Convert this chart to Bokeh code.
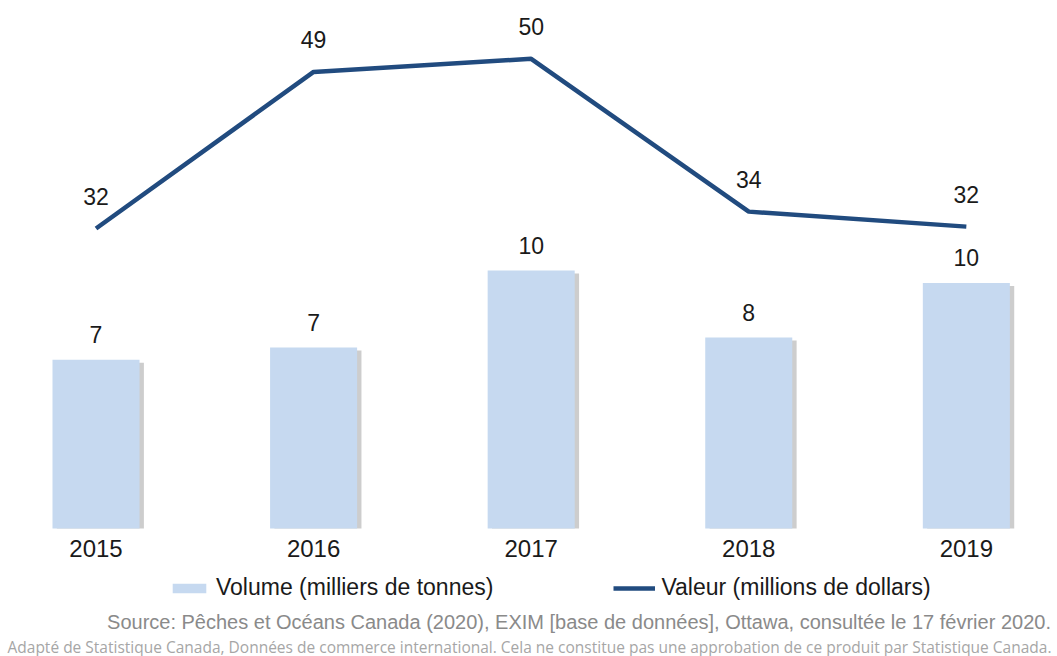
from bokeh.plotting import figure
from bokeh.models import Range1d, FixedTicker, Legend, LegendItem, Label, ColumnDataSource
from bokeh.transform import dodge
from bokeh.core.properties import value
from bokeh.embed import file_html
from bokeh.resources import INLINE

years = ["2015", "2016", "2017", "2018", "2019"]
volume = [6.8, 7.3, 10.4, 7.7, 9.9]          # milliers de tonnes
valeur = [32.0, 48.7, 50.1, 33.8, 32.2]      # millions de dollars
volume_labels = ["7", "7", "10", "8", "10"]
valeur_labels = ["32", "49", "50", "34", "32"]

source1 = "Source: Pêches et Océans Canada (2020), EXIM [base de données], Ottawa,  consultée le 17 février 2020."
source2 = ("Adapté de Statistique Canada, Données de commerce international. "
           "Cela ne constitue pas une approbation de ce produit par Statistique Canada.")

xs = list(range(len(years)))
src = ColumnDataSource(dict(
    x=xs, vol=volume, val=valeur, vol_lab=volume_labels, val_lab=valeur_labels,
    vol_shadow=[v - 0.12 for v in volume],
))

FONT = "Liberation Sans"

p = figure(frame_width=1057, frame_height=656, output_backend="svg", toolbar_location=None,
           x_range=Range1d(-0.439, 4.419), y_range=Range1d(-5.161, 21.29),
           y_axis_location=None,
           min_border_left=0, min_border_right=0, min_border_top=0, min_border_bottom=0)
p.outline_line_color = None
p.xgrid.visible = False
p.ygrid.visible = False
p.extra_y_ranges = {"val": Range1d(-13.653, 56.32)}

shadow = p.vbar(x=dodge("x", 0.02, range=p.x_range), top="vol_shadow", bottom=0, width=0.4,
                source=src, fill_color="#9c9c9c", fill_alpha=0.5, line_color=None)
bars = p.vbar(x="x", top="vol", bottom=0, width=0.4, source=src, fill_color="#c6d9f0",
              line_color=None)
line = p.line("x", "val", source=src, y_range_name="val", line_color="#214b7f", line_width=4.5)

p.text(x="x", y="vol", text="vol_lab", source=src, text_align="center", text_baseline="middle",
       y_offset=-25, text_font=value(FONT), text_font_size="23px", text_color="#1a1a1a")
p.text(x="x", y="val", text="val_lab", source=src, y_range_name="val", text_align="center",
       text_baseline="middle", y_offset=-32, text_font=value(FONT), text_font_size="23px",
       text_color="#1a1a1a")

ax = p.xaxis[0]
ax.fixed_location = 0
ax.ticker = FixedTicker(ticks=xs)
ax.major_label_overrides = {x: y for x, y in zip(xs, years)}
ax.major_label_text_font = FONT
ax.major_label_text_font_size = "24px"
ax.major_label_text_color = "#1a1a1a"
ax.axis_line_color = None
ax.major_tick_line_color = None
ax.minor_tick_line_color = None
ax.major_tick_out = 0
ax.major_tick_in = 0
ax.major_label_standoff = 11

legend = Legend(items=[LegendItem(label="Volume (milliers de tonnes)", renderers=[bars]),
                       LegendItem(label="Valeur (millions de dollars)", renderers=[line])],
                orientation="horizontal", location=(168, 55),
                label_text_font=FONT, label_text_font_size="23px", label_text_color="#1a1a1a",
                glyph_width=42, glyph_height=12, label_standoff=6, spacing=120,
                border_line_alpha=0, background_fill_alpha=0, padding=0, margin=0)
p.add_layout(legend)

p.add_layout(Label(x=1056, y=35, x_units="screen", y_units="screen", text=source1,
                   text_align="right", text_baseline="middle", text_font=FONT,
                   text_font_size="20px", text_color="#8a8a8a"))
p.add_layout(Label(x=529, y=10, x_units="screen", y_units="screen", text=source2,
                   text_align="center", text_baseline="middle", text_font="Open Sans",
                   text_font_size="15.5px", text_color="#a6a6a6"))

open("out.html", "w").write(file_html(p, INLINE))
